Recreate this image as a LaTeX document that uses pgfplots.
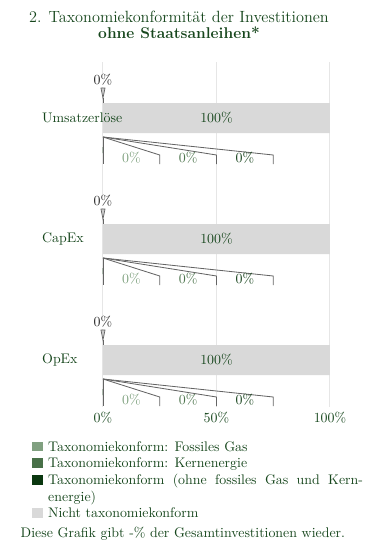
\documentclass[border=0pt]{standalone}
\usepackage{pgfplots}
\pgfplotsset{compat=1.18}
\definecolor{darkgreen}{RGB}{22,70,28}
\definecolor{gasgreen}{RGB}{128,160,128}
\definecolor{nucgreen}{RGB}{72,112,72}
\definecolor{taxgreen}{RGB}{10,55,15}
\definecolor{nichtgray}{RGB}{217,217,217}
\definecolor{gaslab}{RGB}{125,160,125}
\definecolor{nuclab}{RGB}{75,115,75}
\definecolor{taxlab}{RGB}{20,65,25}
\definecolor{gridgray}{RGB}{230,230,230}
\definecolor{fangray}{RGB}{100,100,100}
\begin{document}
\begin{tikzpicture}
\begin{axis}[
  scale only axis, width=163.3pt, height=248.2pt,
  xmin=0, xmax=100, ymin=62, ymax=407, y dir=reverse,
  axis line style={draw=none}, tick style={draw=none},
  ytick=\empty, xtick={0,50,100}, xticklabels={0\%,50\%,100\%},
  xmajorgrids, grid style={color=gridgray, line width=0.7pt},
  tick label style={text=darkgreen, font=\normalsize},
  clip=false,
]
% Not taxonomy-aligned
\addplot[xbar, bar width=30, bar shift=0pt, fill=nichtgray, draw=none] coordinates {(100,118) (100,239) (100,360)};
% zero-valued aligned shares
\addplot[xbar, bar width=6, bar shift=0pt, fill=gasgreen, draw=none] coordinates {(0,150) (0,271) (0,392)};
\addplot[xbar, bar width=6, bar shift=0pt, fill=nucgreen, draw=none] coordinates {(0,150) (0,271) (0,392)};
\addplot[xbar, bar width=6, bar shift=0pt, fill=taxgreen, draw=none] coordinates {(0,150) (0,271) (0,392)};
% pointers above bars
\addplot[draw=fangray, fill=gray!40, line width=0.5pt] coordinates {(-0.9,88) (0.9,88) (0,98)} -- cycle;
\addplot[draw=fangray, line width=0.6pt] coordinates {(0,98) (0,103)};
\addplot[draw=fangray, fill=gray!40, line width=0.5pt] coordinates {(-0.9,209) (0.9,209) (0,219)} -- cycle;
\addplot[draw=fangray, line width=0.6pt] coordinates {(0,219) (0,224)};
\addplot[draw=fangray, fill=gray!40, line width=0.5pt] coordinates {(-0.9,330) (0.9,330) (0,340)} -- cycle;
\addplot[draw=fangray, line width=0.6pt] coordinates {(0,340) (0,345)};
% fans below bars
\addplot[draw=fangray, line width=0.6pt] coordinates {(0,137) (0,164)};
\addplot[draw=fangray, line width=0.6pt] coordinates {(0,137) (25,155) (25,164)};
\addplot[draw=fangray, line width=0.6pt] coordinates {(0,137) (50,155) (50,164)};
\addplot[draw=fangray, line width=0.6pt] coordinates {(0,137) (75,155) (75,164)};
\addplot[draw=fangray, line width=0.6pt] coordinates {(0,258) (0,285)};
\addplot[draw=fangray, line width=0.6pt] coordinates {(0,258) (25,276) (25,285)};
\addplot[draw=fangray, line width=0.6pt] coordinates {(0,258) (50,276) (50,285)};
\addplot[draw=fangray, line width=0.6pt] coordinates {(0,258) (75,276) (75,285)};
\addplot[draw=fangray, line width=0.6pt] coordinates {(0,379) (0,406)};
\addplot[draw=fangray, line width=0.6pt] coordinates {(0,379) (25,397) (25,406)};
\addplot[draw=fangray, line width=0.6pt] coordinates {(0,379) (50,397) (50,406)};
\addplot[draw=fangray, line width=0.6pt] coordinates {(0,379) (75,397) (75,406)};
% labels
\node[anchor=west, text=darkgreen, inner sep=0pt] at (axis cs:-26.9,118) {Umsatzerl\"ose};
\node[anchor=west, text=darkgreen, inner sep=0pt] at (axis cs:-26.9,239) {CapEx};
\node[anchor=west, text=darkgreen, inner sep=0pt] at (axis cs:-26.9,360) {OpEx};
\node[text=darkgreen] at (axis cs:50,118) {100\%};
\node[text=darkgreen] at (axis cs:50,239) {100\%};
\node[text=darkgreen] at (axis cs:50,360) {100\%};
\node[text=black!85, fill=white, inner sep=1pt] at (axis cs:0,80) {0\%};
\node[text=black!85, fill=white, inner sep=1pt] at (axis cs:0,201) {0\%};
\node[text=black!85, fill=white, inner sep=1pt] at (axis cs:0,322) {0\%};
\node[text=gaslab] at (axis cs:12.5,158) {0\%};
\node[text=nuclab] at (axis cs:37.5,158) {0\%};
\node[text=taxlab] at (axis cs:62.5,158) {0\%};
\node[text=gaslab] at (axis cs:12.5,279) {0\%};
\node[text=nuclab] at (axis cs:37.5,279) {0\%};
\node[text=taxlab] at (axis cs:62.5,279) {0\%};
\node[text=gaslab] at (axis cs:12.5,400) {0\%};
\node[text=nuclab] at (axis cs:37.5,400) {0\%};
\node[text=taxlab] at (axis cs:62.5,400) {0\%};
\coordinate (titleA) at (axis cs:33.5,17);
\coordinate (titleB) at (axis cs:33.5,33);
\coordinate (legNW) at (axis cs:-31.3,441);
\coordinate (foot) at (axis cs:35.2,534);
\coordinate (bbSW) at (axis cs:-45.37,549);
\coordinate (bbNE) at (axis cs:115.86,0);
\end{axis}
% title
\node[text=darkgreen, font=\fontsize{11.7}{14}\selectfont] at (titleA) {2. Taxonomiekonformit\"at der Investitionen};
\node[text=darkgreen, font=\fontsize{11.2}{14}\selectfont\bfseries] at (titleB) {ohne Staatsanleihen*};
% legend
\node[anchor=north west, inner sep=0pt, text width=238pt, align=justify, text=darkgreen] at (legNW) {%
\hangindent=11.5pt\hangafter=1\noindent\makebox[11.5pt][l]{\textcolor{gasgreen}{\rule[-0.2pt]{7.5pt}{7pt}}}Taxonomiekonform: Fossiles Gas\par
\hangindent=11.5pt\hangafter=1\noindent\makebox[11.5pt][l]{\textcolor{nucgreen}{\rule[-0.2pt]{7.5pt}{7pt}}}Taxonomiekonform: Kernenergie\par
\hangindent=11.5pt\hangafter=1\noindent\makebox[11.5pt][l]{\textcolor{taxgreen}{\rule[-0.2pt]{7.5pt}{7pt}}}Taxonomiekonform (ohne fossiles Gas und Kern-\linebreak energie)\par
\hangindent=11.5pt\hangafter=1\noindent\makebox[11.5pt][l]{\textcolor{nichtgray}{\rule[-0.2pt]{7.5pt}{7pt}}}Nicht taxonomiekonform\par};
% footnote
\node[text=darkgreen] at (foot) {Diese Grafik gibt -\% der Gesamtinvestitionen wieder.};
\pgfresetboundingbox
\path[use as bounding box] (bbSW) rectangle (bbNE);
\end{tikzpicture}
\end{document}
